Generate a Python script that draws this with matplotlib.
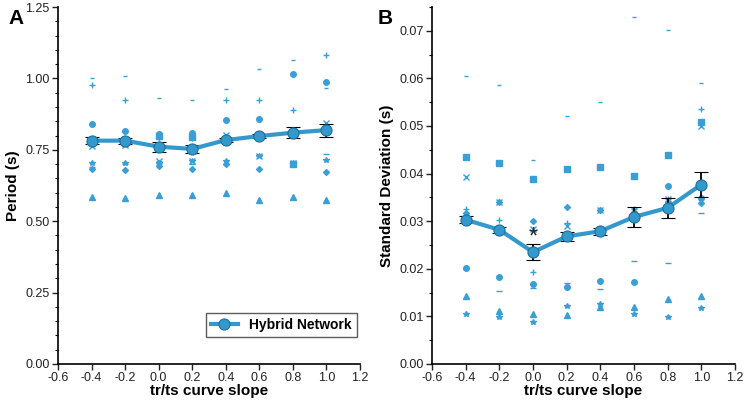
import numpy as np
import matplotlib.pyplot as plt
from matplotlib.ticker import MultipleLocator
from matplotlib.lines import Line2D

plt.rcParams['font.family'] = ['Liberation Sans', 'DejaVu Sans']

slope = [-0.4, -0.2, 0.0, 0.2, 0.4, 0.6, 0.8, 1.0]

# Panel A: period (s) for individual networks
per_dash = [1.000, 1.008, 0.930, 0.924, 0.964, 1.033, 1.064, 0.965]
per_plus = [0.977, 0.923, 0.790, 0.790, 0.923, 0.923, 0.888, 1.082]
per_circle = [0.840, 0.816, 0.805, 0.810, 0.854, 0.859, 1.015, 0.988]
per_square = [0.785, 0.785, 0.798, 0.795, 0.785, 0.800, 0.700, 0.815]
per_x = [0.763, 0.767, 0.711, 0.711, 0.802, 0.729, 0.703, 0.843]
per_star = [0.703, 0.703, 0.703, 0.711, 0.711, 0.729, 0.703, 0.714]
per_line = [0.690, 0.700, 0.711, 0.700, 0.700, 0.730, 0.703, 0.734]
per_diamond = [0.682, 0.680, 0.693, 0.682, 0.700, 0.683, 0.700, 0.671]
per_tri = [0.584, 0.580, 0.593, 0.590, 0.599, 0.573, 0.584, 0.575]
per_mean = [0.782, 0.782, 0.761, 0.753, 0.784, 0.798, 0.810, 0.819]
per_err = [0.012, 0.010, 0.017, 0.013, 0.008, 0.008, 0.020, 0.023]

# Panel B: standard deviation (s)
sd_dash = [0.0606, 0.0587, 0.0429, 0.0522, 0.0551, 0.0730, 0.0701, 0.0590]
sd_square = [0.0435, 0.0422, 0.0388, 0.0410, 0.0414, 0.0394, 0.0440, 0.0508]
sd_x = [0.0393, 0.0340, 0.0284, 0.0290, 0.0324, 0.0323, 0.0347, 0.0499]
sd_plus = [0.0325, 0.0302, 0.0194, 0.0296, 0.0324, 0.0325, 0.0347, 0.0535]
sd_diamond = [0.0317, 0.0340, 0.0300, 0.0330, 0.0324, 0.0320, 0.0340, 0.0338]
sd_circle = [0.0201, 0.0182, 0.0168, 0.0161, 0.0174, 0.0172, 0.0374, 0.0349]
sd_line = [0.0199, 0.0153, 0.0160, 0.0170, 0.0157, 0.0216, 0.0212, 0.0318]
sd_tri = [0.0143, 0.0112, 0.0104, 0.0103, 0.0119, 0.0120, 0.0136, 0.0143]
sd_star = [0.0106, 0.0099, 0.0089, 0.0122, 0.0126, 0.0106, 0.0099, 0.0117]
sd_mean = [0.0303, 0.0282, 0.0235, 0.0268, 0.0279, 0.0309, 0.0328, 0.0377]
sd_err = [0.0007, 0.0006, 0.0017, 0.0010, 0.0007, 0.0021, 0.0021, 0.0027]

blue = '#3a9fd6'
line_blue = '#3399cc'

fig = plt.figure(figsize=(7.44, 4.01), dpi=100)
axA = fig.add_axes([58/744, 1 - 364/401, 302/744, 357/401])
axB = fig.add_axes([432/744, 1 - 364/401, 303/744, 357/401])

# (values, marker, size)
groupsA = [(per_dash, '_', 3), (per_plus, '+', 5), (per_circle, 'o', 4),
           (per_square, 's', 4), (per_x, 'x', 4), (per_star, '*', 4),
           (per_line, '_', 5), (per_diamond, 'D', 3), (per_tri, '^', 4)]
groupsB = [(sd_dash, '_', 3), (sd_square, 's', 4), (sd_x, 'x', 4),
           (sd_plus, '+', 5), (sd_diamond, 'D', 3), (sd_circle, 'o', 4),
           (sd_line, '_', 5), (sd_tri, '^', 4), (sd_star, '*', 4)]

for ax, groups, mean, err in [(axA, groupsA, per_mean, per_err),
                              (axB, groupsB, sd_mean, sd_err)]:
    for vals, m, ms in groups:
        ax.plot(slope, vals, linestyle='none', marker=m, markersize=ms,
                color=blue, markeredgewidth=1.0, zorder=2)
    ax.errorbar(slope, mean, yerr=err, color=line_blue, linewidth=3.0,
                marker='o', markersize=8, markerfacecolor=line_blue,
                markeredgecolor='#1f6f9a', markeredgewidth=0.8,
                ecolor='black', elinewidth=1.3, capsize=5, capthick=1.3,
                zorder=3)
    ax.set_xlim(-0.6, 1.2)
    ax.xaxis.set_major_locator(MultipleLocator(0.2))
    ax.xaxis.set_major_formatter(plt.FuncFormatter(lambda v, p: f'{v:.1f}'))
    for s in ['top', 'right']:
        ax.spines[s].set_visible(False)
    ax.spines['left'].set_linewidth(1.2)
    ax.spines['bottom'].set_linewidth(1.2)
    ax.tick_params(labelsize=9, colors='#222222', length=4, width=1, pad=2)
    ax.tick_params(which='minor', length=2.5, width=0.8)
    ax.set_xlabel('tr/ts curve slope', fontsize=11, fontweight='bold', labelpad=0)

axA.set_ylim(0, 1.25)
axA.yaxis.set_major_locator(MultipleLocator(0.25))
axA.yaxis.set_minor_locator(MultipleLocator(0.05))
axA.yaxis.set_major_formatter(plt.FuncFormatter(lambda v, p: f'{v:.2f}'))
axA.set_ylabel('Period (s)', fontsize=11, fontweight='bold')

axB.set_ylim(0, 0.075)
axB.yaxis.set_major_locator(MultipleLocator(0.01))
axB.yaxis.set_minor_locator(MultipleLocator(0.005))
axB.yaxis.set_major_formatter(plt.FuncFormatter(lambda v, p: f'{v:.2f}'))
axB.set_ylabel('Standard Deviation (s)', fontsize=11, fontweight='bold')
axB.text(0.0, 0.0266, '*', ha='center', va='center', fontsize=17, color='#222222')

handle = Line2D([], [], color=line_blue, linewidth=3.0, marker='o', markersize=8,
                markerfacecolor=line_blue, markeredgecolor='#1f6f9a', markeredgewidth=0.8)
leg = axA.legend([handle], ['Hybrid Network'], loc='lower right',
                 bbox_to_anchor=(0.99, 0.076), borderaxespad=0, frameon=True,
                 fancybox=False, edgecolor='#333333', prop={'weight': 'bold', 'size': 10},
                 handlelength=2.0, borderpad=0.35)
leg.get_frame().set_linewidth(1.0)

fig.text(8/744, 1 - 18/401, 'A', fontsize=15, fontweight='bold', va='center')
fig.text(378/744, 1 - 18/401, 'B', fontsize=15, fontweight='bold', va='center')

fig.savefig('out.png', dpi=100)
